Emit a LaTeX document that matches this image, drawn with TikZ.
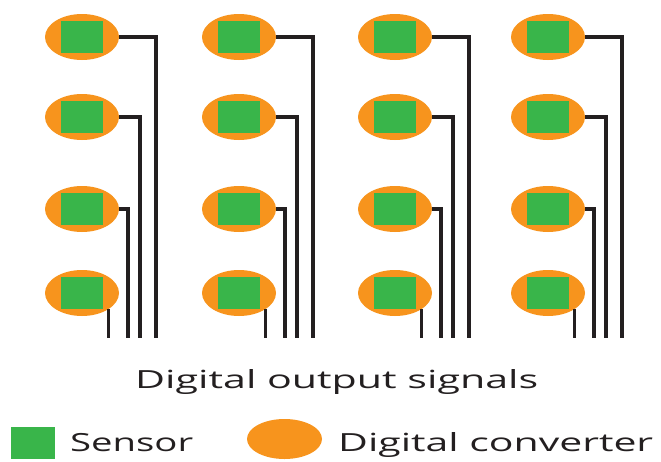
\documentclass[tikz,border=0pt]{standalone}
\usepackage{fontspec}
\usepackage{graphicx}
\setsansfont{Open Sans}
\usetikzlibrary{shapes.geometric}

\definecolor{convorange}{HTML}{F7941D}
\definecolor{sensgreen}{HTML}{39B54A}
\definecolor{wire}{HTML}{231F20}

\begin{document}
\begin{tikzpicture}[
  x=1pt,
  y=-1pt,
  font=\sffamily,
  converter/.style={ellipse,fill=convorange,minimum width=74pt,minimum height=46pt,inner sep=0pt},
  sensor/.style={rectangle,fill=sensgreen,minimum width=42pt,minimum height=32pt,inner sep=0pt},
  signal/.style={draw=wire,line width=3.3pt},
  caption/.style={inner sep=0pt,anchor=base west,text=wire,
    font=\sffamily\fontsize{25}{30}\selectfont}
]
\useasboundingbox (0,0) rectangle (661,461);

% four columns of converter + sensor, each row wired down to the bottom
\foreach \col/\cx in {a/82,b/239,c/395,d/548}{
  \node[converter] (\col1) at (\cx,37) {};
  \node[converter] (\col2) at (\cx,117) {};
  \node[converter] (\col3) at (\cx,209) {};
  \node[converter] (\col4) at (\cx,293) {};
  \node[sensor] (\col1s) at (\col1) {};
  \node[sensor] (\col2s) at (\col2) {};
  \node[sensor] (\col3s) at (\col3) {};
  \node[sensor] (\col4s) at (\col4) {};
  \coordinate (\col1out) at (\cx+74,338);
  \coordinate (\col2out) at (\cx+58,338);
  \coordinate (\col3out) at (\cx+46,338);
  \coordinate (\col4out) at (\col4.south east |- \col1out);
  \draw[signal] (\col1.east) -| (\col1out);
  \draw[signal] (\col2.east) -| (\col2out);
  \draw[signal] (\col3.east) -| (\col3out);
  \draw[signal] (\col4.south east) -- (\col4out);
}

\node[caption] (outputs) at (135,388) {\resizebox{403pt}{\height}{Digital output signals}};

% legend
\node[sensor,minimum width=44pt] (keysensor) at (33,443) {};
\node[caption] (keysensortext) at (70,451) {\resizebox{123pt}{\height}{Sensor}};
\node[converter,minimum width=75pt,minimum height=40pt] (keyconv) at (284.5,439) {};
\node[caption] (keyconvtext) at (338,451) {\resizebox{315pt}{\height}{Digital converter}};
\end{tikzpicture}
\end{document}
